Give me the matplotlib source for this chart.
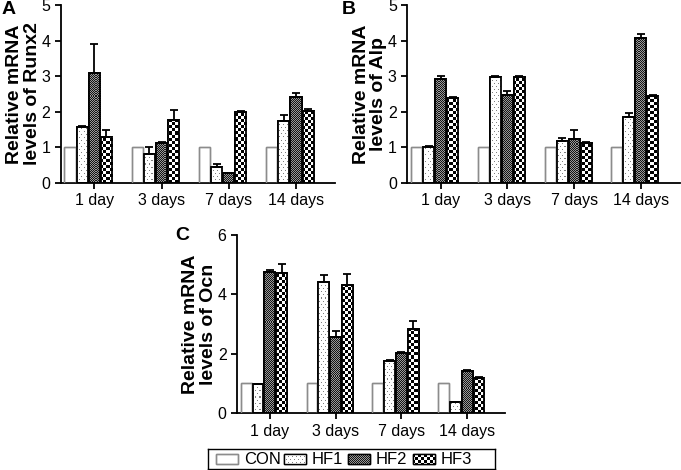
import numpy as np
import matplotlib
matplotlib.use("Agg")
import matplotlib.pyplot as plt
from matplotlib.patches import Rectangle

plt.rcParams['font.family'] = ['Liberation Sans', 'DejaVu Sans']

days = ['1 day', '3 days', '7 days', '14 days']
groups = ['CON', 'HF1', 'HF2', 'HF3']

# Runx2
runx2 = [[1, 1, 1, 1],
         [1.57, 0.82, 0.45, 1.75],
         [3.10, 1.12, 0.27, 2.42],
         [1.28, 1.78, 2.00, 2.02]]
runx2_err = [[0, 0, 0, 0],
             [0.03, 0.20, 0.07, 0.15],
             [0.80, 0.02, 0.02, 0.10],
             [0.20, 0.27, 0.01, 0.05]]
# Alp
alp = [[1, 1, 1, 1],
       [1.02, 2.97, 1.17, 1.85],
       [2.92, 2.48, 1.22, 4.08],
       [2.38, 2.98, 1.12, 2.43]]
alp_err = [[0, 0, 0, 0],
           [0.01, 0.05, 0.08, 0.12],
           [0.08, 0.10, 0.28, 0.10],
           [0.03, 0.03, 0.03, 0.05]]
# Ocn
ocn = [[1, 1, 1, 1],
       [0.98, 4.43, 1.76, 0.37],
       [4.76, 2.56, 2.04, 1.42],
       [4.73, 4.30, 2.84, 1.20]]
ocn_err = [[0, 0, 0, 0],
           [0.01, 0.23, 0.03, 0.01],
           [0.05, 0.22, 0.02, 0.03],
           [0.30, 0.40, 0.27, 0.01]]

W, H, DPI = 681, 470, 100
fig = plt.figure(figsize=(W / DPI, H / DPI), dpi=DPI)


def texture(kind, nx, ny):
    # pixel pattern for the fills
    yy, xx = np.mgrid[0:ny, 0:nx]
    if kind == 'HF1':
        a = np.ones((ny, nx))
        a[(yy % 3 == 0) & ((xx + (yy // 3) % 2 * 2) % 4 == 0)] = 0.5
    elif kind == 'HF2':
        a = np.where((xx + yy) % 2 == 0, 0.08, 0.6)
    else:
        a = np.where(((xx // 3) + (yy // 3)) % 2 == 0, 0.0, 1.0)
    return a


def fill_patch(ax, patch, kind):
    if kind == 'CON':
        return
    bb = ax.get_window_extent()
    nx, ny = int(round(bb.width)), int(round(bb.height))
    x0, x1 = ax.get_xlim()
    y0, y1 = ax.get_ylim()
    im = ax.imshow(texture(kind, nx, ny), cmap='gray', vmin=0, vmax=1,
                   extent=(x0, x1, y0, y1), origin='lower', aspect='auto',
                   interpolation='nearest', zorder=2)
    im.set_clip_path(patch)


def panel(rect, vals, errs, ymax, ystep, ylabel, letter, lx, ly):
    ax = fig.add_axes(rect)
    ax.set_xlim(-0.5, 3.58)
    ax.set_ylim(0, ymax)
    x = np.arange(len(days))
    bw = 0.165
    for k, g in enumerate(groups):
        pos = x + (k - 2) * 0.18
        ec = '#8c8c8c' if g == 'CON' else 'black'
        lw = 1.0 if g == 'CON' else 1.3
        bars = ax.bar(pos, vals[k], width=bw, color='white', edgecolor=ec,
                      linewidth=lw, zorder=1)
        for b in bars:
            fill_patch(ax, b, g)
            ax.add_patch(Rectangle(b.get_xy(), b.get_width(), b.get_height(),
                                   fill=False, edgecolor=ec, linewidth=lw, zorder=3))
        if g != 'CON':
            ax.errorbar(pos, vals[k], yerr=[np.zeros(4), errs[k]], fmt='none',
                        ecolor='black', elinewidth=1.3, capsize=3, capthick=1.3, zorder=4)
    ax.set_xticks(x)
    ax.set_xticklabels(days)
    ax.set_yticks(np.arange(0, ymax + 0.01, ystep))
    ax.tick_params(axis='both', labelsize=11.5, width=1.3, length=4, direction='out')
    for s in ['top', 'right']:
        ax.spines[s].set_visible(False)
    for s in ['left', 'bottom']:
        ax.spines[s].set_linewidth(1.3)
    ax.set_ylabel(ylabel, fontsize=14, fontweight='bold', linespacing=1.05)
    wpx = rect[2] * W
    ax.yaxis.set_label_coords(-20 / wpx, 0.5)
    fig.text(lx, ly, letter, fontsize=14, fontweight='bold', ha='left', va='top')
    return ax


panel([0.089, 0.611, 0.403, 0.378], runx2, runx2_err, 5, 1,
      'Relative mRNA\nlevels of Runx2', 'A', 0.002, 0.998)
panel([0.598, 0.611, 0.400, 0.378], alp, alp_err, 5, 1,
      'Relative mRNA\nlevels of Alp', 'B', 0.502, 0.998)
panel([0.348, 0.121, 0.394, 0.379], ocn, ocn_err, 6, 2,
      'Relative mRNA\nlevels of Ocn', 'C', 0.258, 0.517)

# legend box
lax = fig.add_axes([208 / W, 1 - 469 / H, 287 / W, 20 / H])
lax.set_xlim(0, 287)
lax.set_ylim(0, 20)
lax.set_xticks([])
lax.set_yticks([])
for s in lax.spines.values():
    s.set_linewidth(1.0)
xs = [8, 76, 140, 205]
for g, xp in zip(groups, xs):
    ec = '#8c8c8c' if g == 'CON' else 'black'
    r = Rectangle((xp, 5), 22, 10, facecolor='white', edgecolor=ec, linewidth=1.0, zorder=1)
    lax.add_patch(r)
    fill_patch(lax, r, g)
    lax.add_patch(Rectangle((xp, 5), 22, 10, fill=False, edgecolor=ec, linewidth=1.0, zorder=3))
    lax.text(xp + 28, 10, g, fontsize=12, va='center', ha='left')

fig.savefig('out.png', dpi=DPI)
